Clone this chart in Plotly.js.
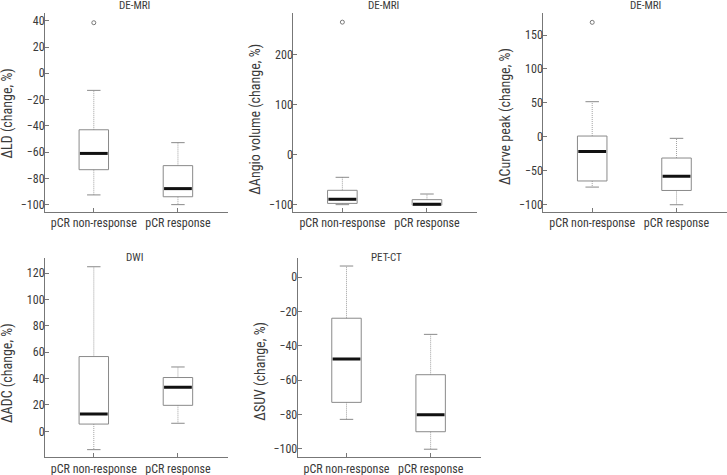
<!DOCTYPE html>
<html>
<head>
<meta charset="utf-8">
<script src="https://cdn.plot.ly/plotly-3.0.1.min.js"></script>
<style>html,body{margin:0;padding:0;background:#fff;}#chart{width:727px;height:475px;}</style>
</head>
<body>
<div id="chart"></div>
<script>
// ---- data ----
const categories = ['pCR non-response', 'pCR response'];

const panelTitles = ['DE-MRI', 'DE-MRI', 'DE-MRI', 'DWI', 'PET-CT'];
const yTitles = ['\u0394LD (change, %)', '\u0394Angio volume (change, %)', '\u0394Curve peak (change, %)', '\u0394ADC (change, %)', '\u0394SUV (change, %)'];

// per panel: [non-response, response]
const ldLow = [-92.6, -100], ldQ1 = [-73.4, -94], ldMed = [-61, -87.8], ldQ3 = [-43, -70.3], ldHigh = [-13, -52.8], ldOut = [[38.5], []];
const angioLow = [-100, -100], angioQ1 = [-97.5, -101], angioMed = [-89, -99], angioQ3 = [-71.3, -90], angioHigh = [-45.3, -78.7], angioOut = [[265], []];
const curveLow = [-74, -100], curveQ1 = [-65, -79], curveMed = [-21.4, -58.2], curveQ3 = [1.2, -31.2], curveHigh = [51.8, -2.2], curveOut = [[168.7], []];
const adcLow = [-13.9, 6.1], adcQ1 = [5.5, 19.7], adcMed = [13.1, 33.4], adcQ3 = [56.7, 40.8], adcHigh = [124.8, 48.8], adcOut = [[], []];
const suvLow = [-82.9, -100.3], suvQ1 = [-73, -90.1], suvMed = [-47.8, -80.2], suvQ3 = [-24, -56.9], suvHigh = [6.4, -33.4], suvOut = [[], []];

const yTickStep = [20, 100, 50, 20, 20];
const yRanges = [[-105.6, 45.9], [-114.7, 283.3], [-110.7, 182], [-19.7, 131.2], [-105, 10.9]];

// ---- layout geometry (pixels) ----
const W = 727, H = 475;
const FONT = 'Liberation Sans Narrow, Arial Narrow, Roboto Condensed, DejaVu Sans Condensed, sans-serif';
const TXT = '#3a3a3a';
const xPix = [[45, 228], [293.3, 477.3], [543.3, 726.7], [45, 228], [297.7, 480.7]];
const yPix = [[13, 212], [13, 212], [13.3, 212], [258.3, 457.3], [258.3, 457.3]];
const titlePos = [[134.5, 5.5], [384, 5.5], [645, 5.5], [134.7, 257], [386, 257]];
const yTitleY = [113.5, 119.5, 116.7, 373, 371];

const panels = [
  [ldLow, ldQ1, ldMed, ldQ3, ldHigh, ldOut],
  [angioLow, angioQ1, angioMed, angioQ3, angioHigh, angioOut],
  [curveLow, curveQ1, curveMed, curveQ3, curveHigh, curveOut],
  [adcLow, adcQ1, adcMed, adcQ3, adcHigh, adcOut],
  [suvLow, suvQ1, suvMed, suvQ3, suvHigh, suvOut]
];

const BOXW = 0.175, CAPW = 0.08;
const traces = [];
const layout = {
  width: W, height: H, margin: {l: 0, r: 0, t: 0, b: 0},
  paper_bgcolor: '#fff', plot_bgcolor: '#fff', showlegend: false,
  font: {family: FONT, size: 12, color: TXT},
  annotations: []
};

panels.forEach((p, i) => {
  const [low, q1, med, q3, high, out] = p;
  const xa = 'x' + (i + 1), ya = 'y' + (i + 1);
  const wx = [], wy = [], cx = [], cy = [], bx = [], by = [], mx = [], my = [], ox = [], oy = [];
  categories.forEach((c, k) => {
    wx.push(k, k, null, k, k, null);
    wy.push(q3[k], high[k], null, q1[k], low[k], null);
    cx.push(k - CAPW, k + CAPW, null, k - CAPW, k + CAPW, null);
    cy.push(high[k], high[k], null, low[k], low[k], null);
    bx.push(k - BOXW, k + BOXW, k + BOXW, k - BOXW, k - BOXW, null);
    by.push(q1[k], q1[k], q3[k], q3[k], q1[k], null);
    mx.push(k - BOXW + 0.01, k + BOXW - 0.01, null);
    my.push(med[k], med[k], null);
    out[k].forEach(v => { ox.push(k); oy.push(v); });
  });
  const common = {xaxis: xa, yaxis: ya, hoverinfo: 'skip', cliponaxis: false};
  traces.push(Object.assign({type: 'scatter', mode: 'lines', x: wx, y: wy, line: {color: '#a0a0a0', width: 1, dash: '1px,1px'}}, common));
  traces.push(Object.assign({type: 'scatter', mode: 'lines', x: cx, y: cy, line: {color: '#8a8a8a', width: 1}}, common));
  traces.push(Object.assign({type: 'scatter', mode: 'lines', x: bx, y: by, line: {color: '#8a8a8a', width: 1}, fill: 'none'}, common));
  traces.push(Object.assign({type: 'scatter', mode: 'lines', x: mx, y: my, line: {color: '#111', width: 3}}, common));
  if (ox.length) traces.push(Object.assign({type: 'scatter', mode: 'markers', x: ox, y: oy, marker: {symbol: 'circle-open', size: 4, color: '#777', line: {width: 1}}}, common));

  const sfx = i === 0 ? '' : String(i + 1);
  layout['xaxis' + sfx] = {
    domain: [xPix[i][0] / W, xPix[i][1] / W], anchor: ya,
    range: [-0.58, 1.595], tickvals: [0, 1], ticktext: categories,
    ticks: 'inside', ticklen: 4, tickcolor: '#777', showline: true, linecolor: '#777', linewidth: 1,
    showgrid: false, zeroline: false, fixedrange: true,
    tickfont: {family: FONT, size: 12, color: TXT}
  };
  layout['yaxis' + sfx] = {
    domain: [1 - yPix[i][1] / H, 1 - yPix[i][0] / H], anchor: xa,
    range: yRanges[i], dtick: yTickStep[i], tick0: 0,
    ticks: 'inside', ticklen: 4, tickcolor: '#777', showline: true, linecolor: '#777', linewidth: 1,
    showgrid: false, zeroline: false, fixedrange: true, ticklabelstandoff: -3,
    tickfont: {family: FONT, size: 12, color: TXT}
  };
  layout.annotations.push({
    xref: 'paper', yref: 'paper', x: titlePos[i][0] / W, y: 1 - titlePos[i][1] / H,
    xanchor: 'center', yanchor: 'middle', showarrow: false, text: panelTitles[i],
    font: {family: FONT, size: 11, color: TXT}
  });
  layout.annotations.push({
    xref: 'paper', yref: 'paper', x: (xPix[i][0] - 38) / W, y: 1 - yTitleY[i] / H,
    xanchor: 'center', yanchor: 'middle', showarrow: false, textangle: -90, text: yTitles[i],
    font: {family: FONT, size: 14, color: TXT}
  });
});

Plotly.newPlot('chart', traces, layout, {staticPlot: true, displayModeBar: false});
</script>
</body>
</html>
